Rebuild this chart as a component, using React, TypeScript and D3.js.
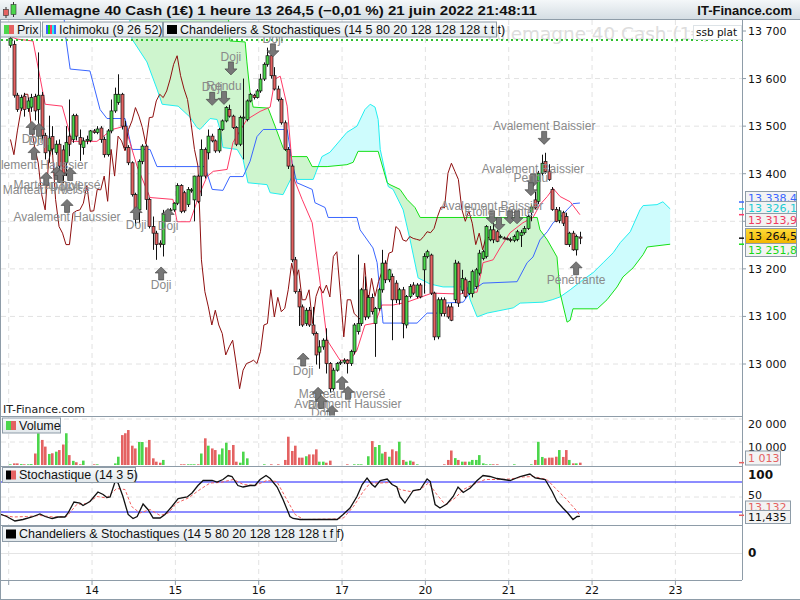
import * as d3 from "d3";
import React, { RefObject, useEffect, useRef } from "react";

type Candle = [number, number, number, number]; // open, high, low, close
type Pt = [number, number]; // candle index, value
type Pattern = [number, number, string, "up" | "down"]; // index, price of arrow top, name, direction

// hourly candles, one array per trading day
const day13: Candle[] = [
  [13670, 13695, 13665, 13685], [13672, 13680, 13560, 13565], [13565, 13570, 13530, 13535], [13538, 13566, 13532, 13560],
  [13563, 13570, 13520, 13535], [13537, 13560, 13530, 13553], [13540, 13568, 13530, 13560], [13562, 13568, 13512, 13532],
  [13535, 13655, 13470, 13565], [13565, 13572, 13470, 13480], [13480, 13486, 13430, 13444], [13448, 13522, 13423, 13475],
  [13478, 13500, 13440, 13452], [13445, 13470, 13440, 13462], [13462, 13472, 13381, 13416], [13450, 13460, 13380, 13396],
  [13424, 13500, 13395, 13466], [13479, 13556, 13437, 13462], [13472, 13526, 13465, 13522], [13522, 13526, 13470, 13479],
  [13476, 13493, 13427, 13462], [13455, 13476, 13440, 13469], [13469, 13480, 13462, 13472], [13470, 13492, 13466, 13490],
];
const day14: Candle[] = [
  [13490, 13494, 13484, 13487], [13487, 13500, 13483, 13494], [13496, 13500, 13465, 13472], [13472, 13478, 13434, 13440],
  [13440, 13494, 13436, 13490], [13490, 13556, 13485, 13532], [13532, 13581, 13528, 13567], [13550, 13609, 13545, 13567],
  [13567, 13570, 13493, 13500], [13500, 13511, 13450, 13455], [13455, 13460, 13418, 13423], [13423, 13426, 13352, 13356],
  [13356, 13360, 13290, 13324], [13324, 13430, 13296, 13426], [13426, 13462, 13420, 13458], [13458, 13462, 13324, 13346],
  [13346, 13350, 13285, 13289], [13289, 13310, 13240, 13275], [13275, 13280, 13219, 13251], [13254, 13260, 13245, 13251],
  [13251, 13324, 13226, 13317], [13318, 13326, 13314, 13322], [13322, 13328, 13318, 13324], [13324, 13340, 13320, 13338],
];
const day15: Candle[] = [
  [13338, 13380, 13334, 13375], [13375, 13378, 13317, 13321], [13360, 13364, 13318, 13322], [13335, 13372, 13330, 13367],
  [13365, 13370, 13360, 13366], [13345, 13396, 13300, 13395], [13395, 13398, 13338, 13342], [13395, 13472, 13353, 13451],
  [13451, 13455, 13390, 13395], [13444, 13493, 13430, 13479], [13479, 13484, 13466, 13469], [13469, 13472, 13444, 13448],
  [13448, 13496, 13444, 13493], [13493, 13514, 13490, 13511], [13511, 13542, 13508, 13539], [13535, 13545, 13518, 13521],
  [13521, 13524, 13494, 13497], [13497, 13500, 13458, 13462], [13462, 13522, 13458, 13518], [13518, 13600, 13430, 13519],
  [13514, 13556, 13510, 13553], [13553, 13570, 13550, 13567], [13565, 13568, 13556, 13560], [13560, 13578, 13558, 13574],
];
const day16: Candle[] = [
  [13574, 13610, 13570, 13599], [13599, 13634, 13595, 13630], [13630, 13665, 13625, 13648], [13648, 13672, 13600, 13606],
  [13606, 13624, 13575, 13578], [13578, 13585, 13552, 13556], [13556, 13560, 13503, 13507], [13507, 13512, 13448, 13451],
  [13451, 13456, 13410, 13416], [13416, 13420, 13214, 13219], [13219, 13225, 13148, 13152], [13152, 13158, 13080, 13120],
  [13120, 13125, 13078, 13082], [13085, 13118, 13080, 13113], [13113, 13120, 13078, 13082], [13082, 13120, 13060, 13064],
  [13064, 13068, 12999, 13019], [13025, 13050, 12990, 13036], [13036, 13054, 13030, 13050], [13050, 13075, 12980, 13001],
  [13001, 13004, 12940, 12948], [12948, 12992, 12944, 12987], [12987, 13004, 12984, 13001], [13002, 13008, 12998, 13004],
];
const day17: Candle[] = [
  [13004, 13012, 13000, 13008], [13008, 13010, 12980, 13001], [13001, 13030, 12996, 13026], [13026, 13086, 13020, 13082],
  [13068, 13230, 13062, 13085], [13085, 13160, 13080, 13156], [13156, 13184, 13092, 13099], [13099, 13145, 13095, 13140],
  [13140, 13148, 13104, 13110], [13085, 13120, 13015, 13117], [13117, 13160, 13112, 13156], [13156, 13240, 13150, 13212],
  [13212, 13218, 13170, 13177], [13177, 13200, 13172, 13198], [13184, 13190, 13050, 13135], [13170, 13176, 13128, 13135],
  [13135, 13160, 13125, 13156], [13156, 13162, 13054, 13085], [13082, 13145, 13075, 13142], [13142, 13168, 13138, 13163],
  [13166, 13172, 13145, 13149], [13142, 13170, 13138, 13166], [13166, 13170, 13138, 13141], [13198, 13233, 13148, 13226],
];
const day20: Candle[] = [
  [13226, 13240, 13222, 13236], [13229, 13232, 13145, 13149], [13149, 13152, 13050, 13057], [13057, 13140, 13052, 13135],
  [13106, 13140, 13100, 13135], [13135, 13140, 13100, 13106], [13120, 13125, 13095, 13099], [13120, 13128, 13090, 13092],
  [13135, 13219, 13128, 13212], [13212, 13216, 13120, 13128], [13155, 13198, 13148, 13180], [13177, 13182, 13138, 13142],
  [13148, 13175, 13145, 13173], [13148, 13198, 13140, 13194], [13163, 13202, 13158, 13198], [13191, 13240, 13186, 13233],
  [13222, 13240, 13218, 13236], [13226, 13292, 13222, 13289], [13261, 13290, 13258, 13282], [13282, 13296, 13254, 13261],
  [13278, 13282, 13256, 13258], [13268, 13272, 13264, 13268], [13265, 13268, 13262, 13264], [13264, 13266, 13260, 13262],
];
const day21: Candle[] = [
  [13262, 13266, 13256, 13260], [13260, 13272, 13256, 13268], [13262, 13282, 13258, 13278], [13270, 13282, 13246, 13276],
  [13276, 13290, 13272, 13285], [13285, 13314, 13282, 13310], [13318, 13335, 13300, 13330], [13345, 13362, 13325, 13328],
  [13342, 13406, 13336, 13401], [13401, 13440, 13396, 13422], [13426, 13444, 13400, 13405], [13405, 13420, 13385, 13388],
  [13367, 13372, 13322, 13325], [13325, 13330, 13298, 13300], [13302, 13330, 13296, 13322], [13318, 13322, 13290, 13296],
  [13310, 13318, 13250, 13251], [13251, 13278, 13246, 13275], [13275, 13280, 13238, 13240], [13240, 13272, 13228, 13268],
  [13267, 13278, 13252, 13264.5],
];

// hourly volume, same slots as the candles
const vol13 = [300, 700, 700, 400, 300, 300, 400, 5000, 13800, 10900, 8000, 4800, 5100, 5800, 6500, 8900, 13800, 4300, 1800, 1200, 300, 1900, 0, 0];
const vol14 = [300, 300, 0, 0, 0, 0, 700, 3600, 13000, 13800, 15200, 8400, 7200, 10000, 10000, 7700, 10900, 2900, 1450, 1000, 2200, 0, 0, 0];
const vol15 = [0, 300, 300, 300, 300, 300, 300, 5000, 11600, 8400, 7200, 6500, 4600, 7200, 9700, 6500, 8700, 1450, 1000, 5800, 2900, 0, 0, 0];
const vol16 = [0, 300, 0, 300, 0, 300, 0, 2200, 12300, 6100, 8400, 3200, 3200, 3800, 4600, 4600, 6800, 1450, 1450, 1000, 1900, 0, 0, 0];
const vol17 = [0, 300, 0, 300, 300, 300, 0, 3800, 10400, 7800, 8700, 5000, 5700, 3600, 6800, 6000, 10100, 2200, 1450, 1900, 1450, 300, 0, 0];
const vol20 = [0, 0, 0, 0, 0, 300, 2200, 6300, 3000, 2200, 1450, 1450, 1450, 2200, 2200, 4300, 720, 300, 300, 300, 300, 0, 0, 0];
const vol21 = [0, 300, 0, 0, 0, 0, 300, 2200, 10100, 3500, 2900, 3200, 3200, 3600, 6500, 3500, 6500, 2200, 720, 720, 1013];

// Ichimoku lines read as vertices [candle index, price]
const tenkan: Pt[] = [
  [-4, 13700], [1.9, 13683], [6.5, 13679], [10, 13546], [14.9, 13542], [17.7, 13468], [24.9, 13468], [29.3, 13493],
  [33, 13500], [36.5, 13415], [40.2, 13350], [46.8, 13346], [48, 13299], [51.7, 13299], [54.6, 13360], [56.6, 13394],
  [58.4, 13405], [62.4, 13409], [64.1, 13466], [68.1, 13514], [71.9, 13531], [74.8, 13540], [76.2, 13599], [77.7, 13605],
  [79.7, 13542], [81.4, 13394], [84, 13346], [86.9, 13297], [89.2, 13170], [91.2, 13050], [94.9, 13008], [97.8, 13008],
  [99.8, 13029], [102.1, 13082], [105, 13086], [107, 13124], [110.2, 13124], [114.2, 13130], [121.4, 13149], [129.5, 13147],
  [131.5, 13151], [134.4, 13151], [136.1, 13213], [139, 13219], [141, 13244], [143.9, 13276], [147.6, 13297], [150.5, 13308],
  [152.5, 13335], [154.6, 13352], [156.3, 13369], [158.3, 13352], [161.2, 13341], [164, 13313.9],
];
const kijun: Pt[] = [
  [-4, 13770], [14.9, 13770], [16, 13683], [17.2, 13620], [22.9, 13616], [25.8, 13535], [27.8, 13516], [33, 13516],
  [35, 13451], [40.2, 13451], [42.2, 13415], [56, 13415], [58.1, 13367], [61.2, 13365], [63.2, 13394], [67, 13394],
  [69, 13426], [71, 13478], [72.8, 13493], [79.7, 13493], [81.1, 13424], [82.5, 13381], [86.9, 13367], [87.7, 13339],
  [90.6, 13329], [91.5, 13308], [99.8, 13308], [100.7, 13282], [104.4, 13244], [105.6, 13213], [107.3, 13086], [117.1, 13086],
  [120, 13107], [122.9, 13107], [124.6, 13128], [130.4, 13130], [132.4, 13151], [136.1, 13170], [145.9, 13173], [148.8, 13213],
  [150.5, 13225], [152.5, 13261], [154.6, 13278], [156.3, 13297], [158.3, 13308], [160.3, 13324], [162, 13337], [164, 13338.4],
];
const senkouA: Pt[] = [
  [-4, 13800], [62.2, 13800], [63.2, 13679], [67.6, 13677], [68.1, 13635], [69, 13571], [69.9, 13540], [74.2, 13538],
  [76.2, 13500], [78.5, 13455], [81.1, 13436], [85.4, 13436], [86.9, 13415], [91.2, 13415], [96.9, 13419], [98.7, 13424],
  [100.1, 13447], [105.9, 13447], [108.5, 13381], [109.3, 13377], [112.2, 13367], [114.2, 13346], [116.5, 13329], [118, 13308],
  [151.7, 13308], [152.5, 13282], [154.6, 13261], [157.4, 13225], [158.3, 13149], [160.3, 13088], [161.2, 13092], [162, 13116],
  [169, 13116], [171.8, 13135], [174.7, 13162], [176.4, 13183], [179.3, 13202], [182.2, 13230], [183.4, 13246], [190, 13251.8],
];
const senkouB: Pt[] = [
  [-4, 13760], [33.8, 13760], [35, 13683], [39.3, 13635], [42.2, 13578], [43.7, 13546], [48.3, 13542], [51.7, 13519],
  [53.7, 13497], [54.6, 13493], [57.5, 13516], [59.5, 13514], [60.4, 13493], [61.2, 13455], [65.3, 13451], [67, 13430],
  [68.4, 13381], [73.9, 13377], [74.8, 13360], [78.5, 13356], [81.1, 13394], [82.5, 13388], [87.2, 13388], [89.7, 13436],
  [92, 13445], [96.9, 13487], [99.8, 13500], [102.1, 13535], [103.6, 13546], [105, 13540], [105.9, 13514], [106.5, 13451],
  [108.8, 13373], [110.2, 13367], [113.1, 13324], [115.1, 13261], [117.4, 13181], [120.9, 13168], [124.6, 13162], [131.5, 13162],
  [132.4, 13135], [134.4, 13099], [137.3, 13107], [144.8, 13118], [146.8, 13128], [153.4, 13130], [156, 13135], [158.3, 13141],
  [161.2, 13156], [164.9, 13177], [167.8, 13192], [170.7, 13213], [173.6, 13234], [175.6, 13255], [178.5, 13278], [181.3, 13324],
  [182.2, 13333], [186.2, 13335], [187.9, 13341], [190, 13326.1],
];
const ssbFlat = 13681;

// Stochastique (14 3 5)
const stochK: Pt[] = [
  [-3, 16], [-1.1, 11], [1.3, 2], [3.6, 5], [6.2, 10], [8.5, 16], [10, 11], [12, 7], [13.7, 10], [15.7, 10], [16.6, 18],
  [18.3, 40], [20, 38], [20.9, 33], [22.9, 41], [25.2, 60], [26.7, 55], [27.8, 49], [28.7, 50], [30.1, 80], [31, 78],
  [32.4, 51], [33.9, 15], [35.3, 7], [36.5, 11], [38.2, 36], [39.6, 25], [41.1, 8], [43.1, 8], [44.5, 15], [46.5, 31],
  [48.3, 47], [50.9, 50], [52.3, 58], [54, 73], [55.5, 83], [58.1, 83], [59.5, 80], [61.2, 85], [62.7, 93], [63.8, 91],
  [65.5, 73], [67, 70], [69, 73], [70.4, 73], [71.9, 85], [73.6, 93], [74.8, 87], [76.8, 70], [78.5, 45], [80.5, 11],
  [81.4, 7], [83.4, 5], [89.2, 5], [94.1, 5], [95.8, 15], [97.8, 28], [99.8, 51], [101.3, 75], [102.7, 88], [104.1, 75],
  [105, 70], [106.5, 83], [108.5, 86], [109.9, 75], [111.3, 70], [112.2, 50], [113.6, 38], [116, 63], [118, 65], [120, 86],
  [120.9, 81], [122.3, 35], [123.7, 28], [125.7, 36], [127.5, 51], [128.9, 70], [130.4, 59], [132.4, 68], [134.4, 83],
  [136.1, 93], [138.1, 91], [140.1, 87], [141, 86], [143.9, 83], [146.8, 91], [149.6, 96], [151.1, 88], [154, 85], [156, 61],
  [157.4, 41], [159.1, 28], [160.5, 18], [162, 5], [163.2, 11], [164, 11.435],
];
const stochD: Pt[] = [
  [-3, 15], [0.8, 10], [4.7, 11], [8.5, 13], [12.4, 10], [16.2, 11], [19.1, 35], [22, 37], [24.9, 51], [27.7, 48],
  [30.6, 67], [33, 65], [34.9, 31], [37.3, 18], [40.2, 25], [43.1, 13], [45.5, 18], [47.9, 38], [51.2, 48], [54.6, 65],
  [57.5, 78], [60.4, 79], [64.2, 85], [67.1, 75], [70.5, 73], [73.8, 83], [76.7, 81], [79.1, 51], [82, 15], [84.4, 5],
  [93, 6], [95.9, 8], [98.8, 31], [101.6, 61], [103.6, 78], [106.5, 78], [109.3, 79], [112.2, 65], [115.1, 61], [118, 65],
  [120.4, 78], [122.8, 55], [125.2, 35], [128.1, 48], [130.4, 65], [133.3, 75], [136.7, 85], [140.1, 85], [143.9, 86],
  [147.7, 90], [150.6, 91], [154.5, 85], [157.3, 65], [160.2, 45], [163.1, 22], [164, 13.132],
];

// candlestick pattern marks
const patterns: Pattern[] = [
  [6.2, 13510, "Doji", "up"], [8.2, 13506, "Doji", "up"], [6.8, 13457, "Avalement Haussier", "up"],
  [13.4, 13415, "Marteau Inversé", "up"], [10.3, 13403, "Marteau Inversé", "up"], [14.3, 13409, "Doji", "up"],
  [17.2, 13413, "Doji", "up"], [16.3, 13346, "Avalement Haussier", "up"], [36.2, 13331, "Doji", "up"],
  [45.4, 13327, "Doji", "up"], [43.4, 13204, "Doji", "up"], [84.3, 13023, "Doji", "up"],
  [95.5, 12974, "Marteau Inversé", "up"], [97.2, 12953, "Avalement Haussier", "up"], [88.6, 12951, "Doji", "up"],
  [89.5, 12934, "Doji", "up"], [92.6, 12913, "Doji", "up"], [162.9, 13215, "Pénétrante", "up"],
  [63.5, 13635, "Doji", "down"], [58.1, 13571, "Doji", "down"], [61.5, 13573, "Rendu", "down"],
  [75.6, 13673, "Doji", "down"], [153.7, 13489, "Avalement Baissier", "down"],
  [150.5, 13400, "Avalement Baissier", "down"], [149.9, 13381, "Pendu", "down"],
  [138.7, 13322, "Avalement Baissier", "down"], [140.7, 13308, "Etoile Filante", "down"],
  [143.9, 13322, "", "down"], [145.9, 13322, "", "down"],
];

const dayLabels = ["13", "14", "15", "16", "17", "20", "21", "22", "23"];
const priceTicks = [13000, 13100, 13200, 13300, 13400, 13500, 13600, 13700];
const volumeTicks = [10000, 20000];
const stochTicks = [50, 100];

const FONT = "'DejaVu Sans', sans-serif";
const LFONT = "'Liberation Sans', Arial, sans-serif";
const BORDER = "#8e9ca8";
const GREEN = "#4cd64c";
const RED = "#e46262";
const CLOUD_UP = "#cef5ce";
const CLOUD_DOWN = "#cefcfd";

const interp = (pts: Pt[], t: number) => {
  if (t <= pts[0][0]) return pts[0][1];
  for (let k = 1; k < pts.length; k++) {
    if (t <= pts[k][0]) {
      const [x0, y0] = pts[k - 1];
      const [x1, y1] = pts[k];
      return y0 + ((y1 - y0) * (t - x0)) / (x1 - x0);
    }
  }
  return pts[pts.length - 1][1];
};

const App = () => {
  const svgRef: RefObject<SVGSVGElement> = useRef(null);

  const drawChart = () => {
    const svg = d3.select(svgRef.current);
    svg.selectAll("*").remove();

    const candles = [...day13, ...day14, ...day15, ...day16, ...day17, ...day20, ...day21];
    const volumes = [...vol13, ...vol14, ...vol15, ...vol16, ...vol17, ...vol20, ...vol21];
    const closes = candles.map((c) => c[3]);
    const chikou: Pt[] = closes.slice(26).map((c, i) => [i, c]);

    const loc = d3.formatLocale({ decimal: ",", thousands: " ", grouping: [3], currency: ["", ""] });
    const fInt = loc.format(",.0f");
    const f1 = loc.format(",.1f");
    const f3 = loc.format(".3f");

    const x = d3.scaleLinear().domain([-0.5, 191.5]).range([8.7, 675.4]);
    const yP = d3.scaleLinear().domain([13000, 13700]).range([364, 31]);
    const yV = d3.scaleLinear().domain([0, 20000]).range([465, 419]);
    const yS = d3.scaleLinear().domain([0, 100]).range([522, 472]);
    const plotR = 742;

    const defs = svg.append("defs");
    const clip = (id: string, y0: number, y1: number) =>
      defs.append("clipPath").attr("id", id).append("rect").attr("x", 1).attr("y", y0).attr("width", plotR - 1).attr("height", y1 - y0);
    clip("cMain", 20, 415.5);
    clip("cVol", 416.5, 465.5);
    clip("cSto", 466.5, 524.5);
    const grad = (id: string, a: string, b: string) => {
      const g = defs.append("linearGradient").attr("id", id).attr("x1", 0).attr("y1", 0).attr("x2", 0).attr("y2", 1);
      g.append("stop").attr("offset", "0%").attr("stop-color", a);
      g.append("stop").attr("offset", "100%").attr("stop-color", b);
    };
    grad("gTitle", "#f4f7f9", "#d3dce2");
    grad("gBox", "#f7f9fa", "#e2e8ec");
    grad("gGold", "#ffdc3a", "#f2b400");

    svg.append("rect").attr("width", 800).attr("height", 600).attr("fill", "#fff");

    // grid
    const dayX = dayLabels.map((_, k) => x(24 * k - 0.5));
    const grid = svg.append("g").attr("stroke", "#e2e2e2").attr("stroke-dasharray", "5,4").attr("fill", "none");
    dayX.forEach((dx) => grid.append("line").attr("x1", dx).attr("x2", dx).attr("y1", 20).attr("y2", 580));
    priceTicks.forEach((p) => grid.append("line").attr("x1", 1).attr("x2", plotR).attr("y1", yP(p)).attr("y2", yP(p)));
    volumeTicks.forEach((v) => grid.append("line").attr("x1", 1).attr("x2", plotR).attr("y1", yV(v)).attr("y2", yV(v)));
    grid.append("line").attr("x1", 1).attr("x2", plotR).attr("y1", yS(50)).attr("y2", yS(50));
    svg.append("line").attr("x1", 1).attr("x2", plotR).attr("y1", 553.5).attr("y2", 553.5).attr("stroke", "#e4e4e4");

    // watermark
    svg.append("text").attr("x", 488).attr("y", 40).attr("font-family", FONT).attr("font-size", 18)
      .attr("fill", "#dddddd").attr("textLength", 222).attr("lengthAdjust", "spacingAndGlyphs")
      .text("Allemagne 40 Cash (1€)");

    // main panel
    const main = svg.append("g").attr("clip-path", "url(#cMain)");

    // cloud: split the sampled band into runs where A is above B (green) or below (cyan)
    const ts = d3.range(-4, 190.001, 0.25);
    const cloud = ts.map((t) => ({ t, a: interp(senkouA, t), b: interp(senkouB, t) }));
    const runs: { up: boolean; pts: typeof cloud }[] = [];
    cloud.forEach((d) => {
      const up = d.a >= d.b;
      const last = runs[runs.length - 1];
      if (last && last.up === up) last.pts.push(d);
      else runs.push({ up, pts: last ? [last.pts[last.pts.length - 1], d] : [d] });
    });
    const band = d3.area<any>().x((d) => x(d.t)).y0((d) => yP(d.b)).y1((d) => yP(d.a));
    runs.forEach((r) => main.append("path").datum(r.pts).attr("fill", r.up ? CLOUD_UP : CLOUD_DOWN).attr("d", band));

    const line = d3.line<Pt>().x((d) => x(d[0])).y((d) => yP(d[1]));
    const drawLine = (pts: Pt[], color: string) =>
      main.append("path").datum(pts).attr("fill", "none").attr("stroke", color).attr("stroke-width", 1).attr("d", line);
    drawLine(senkouB, "#22eef0");
    drawLine(senkouA, "#16e016");
    drawLine(kijun, "#3a66ff");
    drawLine(tenkan, "#ff3a66");
    drawLine(chikou, "#8e0f0f");

    main.append("line").attr("x1", 1).attr("x2", plotR).attr("y1", yP(ssbFlat)).attr("y2", yP(ssbFlat))
      .attr("stroke", "#2fbf2f").attr("stroke-width", 2).attr("stroke-dasharray", "2,3");

    const cg = main.append("g");
    candles.forEach((c, i) => {
      const [o, h, l, cl] = c;
      const cx = Math.round(x(i)) + 0.5;
      cg.append("line").attr("x1", cx).attr("x2", cx).attr("y1", yP(h)).attr("y2", yP(l)).attr("stroke", "#111").attr("stroke-width", 1);
      const top = yP(Math.max(o, cl));
      const bh = Math.max(1, yP(Math.min(o, cl)) - top);
      cg.append("rect").attr("x", cx - 1.5).attr("y", top).attr("width", 3).attr("height", bh)
        .attr("fill", cl >= o ? GREEN : RED).attr("stroke", "#111").attr("stroke-width", 0.7);
    });

    const pg = main.append("g");
    patterns.forEach(([i, p, name, dir]) => {
      const ax = x(i);
      const ay = yP(p);
      const shape = dir === "up"
        ? `M0,0 L6,6 L2.5,6 L2.5,13 L-2.5,13 L-2.5,6 L-6,6 Z`
        : `M-2.5,0 L2.5,0 L2.5,7 L6,7 L0,13 L-6,7 L-2.5,7 Z`;
      pg.append("path").attr("d", shape).attr("transform", `translate(${ax},${ay})`)
        .attr("fill", "#777").attr("stroke", "#4a4a4a").attr("stroke-width", 0.7);
      if (name) {
        pg.append("text").attr("x", ax).attr("y", dir === "up" ? ay + 22 : ay - 1)
          .attr("text-anchor", "middle").attr("font-family", LFONT).attr("font-size", 12)
          .attr("fill", "#8a8a8a").text(name);
      }
    });

    svg.append("text").attr("x", 3).attr("y", 413).attr("font-family", FONT).attr("font-size", 11)
      .attr("fill", "#222").text("IT-Finance.com");

    // volume panel
    const vg = svg.append("g").attr("clip-path", "url(#cVol)");
    volumes.forEach((v, i) => {
      if (v <= 0) return;
      const c = candles[i];
      vg.append("rect").attr("x", Math.round(x(i)) - 1).attr("y", yV(v)).attr("width", 2.6)
        .attr("height", yV(0) - yV(v)).attr("fill", c[3] >= c[0] ? GREEN : RED);
    });

    // stochastic panel
    const sg = svg.append("g").attr("clip-path", "url(#cSto)");
    [80, 20].forEach((lv) => sg.append("line").attr("x1", 1).attr("x2", plotR).attr("y1", yS(lv)).attr("y2", yS(lv))
      .attr("stroke", "#1a1aff").attr("stroke-width", 1));
    const sLine = d3.line<Pt>().x((d) => x(d[0])).y((d) => yS(d[1]));
    sg.append("path").datum(stochD).attr("fill", "none").attr("stroke", "#f06060").attr("stroke-width", 1)
      .attr("stroke-dasharray", "3,2").attr("d", sLine);
    sg.append("path").datum(stochK).attr("fill", "none").attr("stroke", "#111").attr("stroke-width", 1.3).attr("d", sLine);

    // frame
    const fr = svg.append("g").attr("stroke", BORDER).attr("fill", "none");
    [416, 466, 525, 580].forEach((y) => fr.append("line").attr("x1", 0).attr("x2", plotR).attr("y1", y + 0.5).attr("y2", y + 0.5));
    fr.append("line").attr("x1", plotR + 0.5).attr("x2", plotR + 0.5).attr("y1", 20).attr("y2", 580);
    fr.append("line").attr("x1", 0.5).attr("x2", 0.5).attr("y1", 20).attr("y2", 600);
    fr.append("line").attr("x1", 0).attr("x2", 800).attr("y1", 599.5).attr("y2", 599.5);

    // right axis
    const ax = svg.append("g").attr("font-family", FONT).attr("font-size", 11).attr("fill", "#111");
    priceTicks.forEach((p) => {
      ax.append("line").attr("x1", plotR).attr("x2", plotR + 4).attr("y1", yP(p)).attr("y2", yP(p)).attr("stroke", BORDER);
      ax.append("text").attr("x", 748).attr("y", yP(p) + 4).text(fInt(p));
    });
    volumeTicks.forEach((v) => ax.append("text").attr("x", 748).attr("y", yV(v) + 9).text(fInt(v)));
    stochTicks.forEach((v) => ax.append("text").attr("x", 748).attr("y", yS(v) + (v === 100 ? 7 : 2))
      .attr("font-weight", v === 100 ? "bold" : "normal").attr("font-size", v === 100 ? 12 : 11).text(String(v)));
    ax.append("text").attr("x", 748).attr("y", 557).attr("font-weight", "bold").attr("font-size", 12).text("0");

    // ssb plat tag
    svg.append("rect").attr("x", 693.5).attr("y", 25.5).attr("width", 48).attr("height", 14).attr("fill", "#fff").attr("stroke", "#dde3e7");
    svg.append("text").attr("x", 696).attr("y", 36).attr("font-family", FONT).attr("font-size", 10.5).attr("fill", "#111").text("ssb plat");

    const tag = (y: number, txt: string, color: string, bg = "#f3f3f3", h = 13) => {
      svg.append("rect").attr("x", 745.5).attr("y", y - h / 2).attr("width", 51).attr("height", h)
        .attr("fill", bg).attr("stroke", BORDER);
      svg.append("text").attr("x", 748).attr("y", y + 4).attr("font-family", FONT).attr("font-size", 11)
        .attr("fill", color).text(txt);
    };
    const mark = (y: number, color: string) =>
      svg.append("line").attr("x1", plotR - 3).attr("x2", plotR + 2).attr("y1", y).attr("y2", y).attr("stroke", color).attr("stroke-width", 1.5);

    const lastK = kijun[kijun.length - 1][1];
    const lastB = senkouB[senkouB.length - 1][1];
    const lastT = tenkan[tenkan.length - 1][1];
    const lastA = senkouA[senkouA.length - 1][1];
    const lastC = closes[closes.length - 1];
    mark(yP(lastK) - 1, "#3a66ff");
    mark(yP(lastB), "#22e0e8");
    mark(yP(lastT), "#ff3a66");
    mark(yP(lastC), "#111");
    mark(yP(lastA), "#16e016");
    tag(198, f1(lastK), "#3a66ff");
    tag(208, f1(lastB), "#1ecbd4");
    tag(220, f1(lastT), "#f03a60");
    tag(236, f1(lastC), "#111", "url(#gGold)", 15);
    tag(250, f1(lastA), "#18d818");

    const lastV = volumes[volumes.length - 1];
    mark(yV(lastV), RED);
    svg.append("rect").attr("x", 745.5).attr("y", 451).attr("width", 35).attr("height", 14).attr("fill", "#f3f3f3").attr("stroke", BORDER);
    svg.append("text").attr("x", 748).attr("y", 462).attr("font-family", FONT).attr("font-size", 11).attr("fill", RED).text(fInt(lastV));

    const lastSD = stochD[stochD.length - 1][1];
    const lastSK = stochK[stochK.length - 1][1];
    mark(yS(lastSK) - 1, RED);
    svg.append("rect").attr("x", 745.5).attr("y", 501).attr("width", 45).attr("height", 13).attr("fill", "#f3f3f3").attr("stroke", BORDER);
    svg.append("text").attr("x", 748).attr("y", 511).attr("font-family", FONT).attr("font-size", 11).attr("fill", RED).text(f3(lastSD));
    svg.append("rect").attr("x", 745.5).attr("y", 510.5).attr("width", 45).attr("height", 13).attr("fill", "#f3f3f3").attr("stroke", BORDER);
    svg.append("text").attr("x", 748).attr("y", 521).attr("font-family", FONT).attr("font-size", 11).attr("fill", "#111").text(f3(lastSK));

    // x axis
    const xa = svg.append("g").attr("font-family", FONT).attr("font-size", 11).attr("fill", "#111");
    dayLabels.forEach((lab, k) => {
      xa.append("line").attr("x1", dayX[k]).attr("x2", dayX[k]).attr("y1", 580).attr("y2", 585).attr("stroke", BORDER);
      if (k > 0) xa.append("text").attr("x", dayX[k]).attr("y", 594).attr("text-anchor", "middle").text(lab);
    });

    // title bar
    svg.append("rect").attr("x", 0).attr("y", 0).attr("width", 800).attr("height", 20).attr("fill", "url(#gTitle)");
    svg.append("line").attr("x1", 0).attr("x2", 800).attr("y1", 19.5).attr("y2", 19.5).attr("stroke", BORDER);
    const icon = svg.append("g");
    icon.append("line").attr("x1", 6).attr("x2", 6).attr("y1", 7).attr("y2", 18).attr("stroke", "#333");
    icon.append("rect").attr("x", 3.5).attr("y", 9.5).attr("width", 5).attr("height", 6).attr("fill", RED).attr("stroke", "#333").attr("stroke-width", 0.6);
    icon.append("line").attr("x1", 13.5).attr("x2", 13.5).attr("y1", 2).attr("y2", 17).attr("stroke", "#333");
    icon.append("rect").attr("x", 11).attr("y", 4.5).attr("width", 5).attr("height", 10).attr("fill", GREEN).attr("stroke", "#333").attr("stroke-width", 0.6);
    svg.append("text").attr("x", 24).attr("y", 15).attr("font-family", LFONT).attr("font-weight", "bold").attr("font-size", 13)
      .attr("fill", "#111").attr("textLength", 513).attr("lengthAdjust", "spacingAndGlyphs")
      .text(`Allemagne 40 Cash (1€) 1 heure ${f1(lastC)} (−0,01 %) 21 juin 2022 21:48:11`);
    svg.append("text").attr("x", 792).attr("y", 15).attr("text-anchor", "end").attr("font-family", LFONT)
      .attr("font-weight", "bold").attr("font-size", 13).attr("fill", "#111").text("IT-Finance.com");

    // legend boxes
    const box = (bx: number, by: number, w: number, txt: string, drawIcon: (g: any) => void) => {
      const g = svg.append("g");
      g.append("rect").attr("x", bx + 0.5).attr("y", by + 0.5).attr("width", w).attr("height", 15)
        .attr("fill", "url(#gBox)").attr("stroke", BORDER);
      drawIcon(g);
      g.append("text").attr("x", bx + 17).attr("y", by + 12).attr("font-family", LFONT).attr("font-size", 12.5)
        .attr("fill", "#111").text(txt);
    };
    const twoTone = (bx: number, by: number, a: string, b: string) => (g: any) => {
      g.append("rect").attr("x", bx + 4).attr("y", by + 3.5).attr("width", 5).attr("height", 9).attr("fill", a);
      g.append("rect").attr("x", bx + 9).attr("y", by + 3.5).attr("width", 5).attr("height", 9).attr("fill", b);
    };
    box(0, 21.5, 40, "Prix", twoTone(0, 21.5, GREEN, RED));
    box(42, 21.5, 120, "Ichimoku (9 26 52)", (g: any) => {
      ["#3a66ff", "#16e016", "#ff3a66", "#22eef0", "#3a66ff"].forEach((c, k) =>
        g.append("rect").attr("x", 46 + k * 2).attr("y", 25).attr("width", 2).attr("height", 9).attr("fill", c));
    });
    box(163, 21.5, 333, "Chandeliers & Stochastiques (14 5 80 20 128 128 128 t t t)", twoTone(163, 21.5, "#000", "#000"));
    box(2, 417.5, 58, "Volume", twoTone(2, 417.5, GREEN, RED));
    box(2, 467, 133, "Stochastique (14 3 5)", twoTone(2, 467, "#000", RED));
    box(2, 526, 334, "Chandeliers & Stochastiques (14 5 80 20 128 128 128 t f f)", twoTone(2, 526, "#000", "#000"));
  };

  useEffect(() => {
    drawChart();
  }, [svgRef]);

  return (
    <div style={{ position: "absolute", left: 0, top: 0 }}>
      <svg ref={svgRef} width={800} height={600} style={{ display: "block" }} />
    </div>
  );
};

export default App;
